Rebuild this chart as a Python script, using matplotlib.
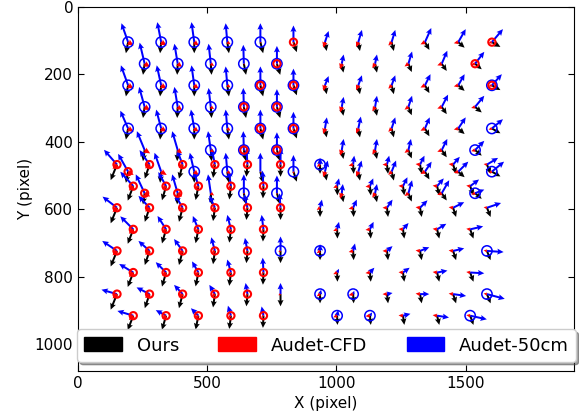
import numpy as np
import matplotlib
matplotlib.use("Agg")
import matplotlib.pyplot as plt
from matplotlib.patches import Patch

plt.rcParams['font.family'] = ['DejaVu Sans']
plt.rcParams['xtick.direction'] = 'in'
plt.rcParams['ytick.direction'] = 'in'
plt.rcParams['xtick.top'] = True
plt.rcParams['ytick.right'] = True

# ---- grid positions (image pixels) ----
# upper-left block
ul_rows_y = [105, 169, 233, 297, 361, 425, 489, 553]
ul_x_odd = [194, 322, 450, 578, 706, 834]
ul_x_even = [258, 386, 514, 642, 770]
# lower-left block
ll_rows_y = [468, 532, 596, 660, 724, 788, 852, 916]
ll_x_odd = [151, 277, 405, 530, 656, 784]
ll_x_even = [214, 341, 466, 592, 718]
# upper-right block
ur_rows_y = [105, 169, 233, 297, 361, 425, 489, 553]
ur_x_odd = [956, 1085, 1214, 1343, 1472, 1602]
ur_x_even = [1021, 1150, 1279, 1408, 1537]
# lower-right block
lr_rows_y = [468, 532, 596, 660, 724, 788, 852, 916]
lr_x_odd = [937, 1065, 1196, 1324, 1452, 1583]
lr_x_even = [1003, 1130, 1258, 1390, 1518]

# ---- vectors (screen px, u right / v up) ----
ul_blue = [
    [(-6, 17), (-3.5, 18), (-2.5, 18), (-1.5, 17), (0, 17), (0, 15)],
    [(-4.5, 19), (-3, 18), (-2, 18), (-0.5, 17), (0, 16)],
    [(-6.5, 18), (-4, 18), (-2.5, 18), (-1.5, 17), (0, 17), (0, 15)],
    [(-5, 18), (-3, 18), (-2, 17), (-0.5, 17), (0, 16)],
    [(-7, 16), (-4.5, 17), (-3, 17), (-1.5, 17), (0, 17), (0, 15)],
    [(-7, 17), (-5, 17), (-2.5, 17), (-0.5, 17), (0, 16)],
    [(-9, 16), (-6, 17), (-4, 17), (-1.5, 17), (0, 17), (0, 15)],
    [(-8, 17), (-5, 17), (-2.5, 17), (0, 17), (0, 16)],
]
ul_black_odd = [(-2, -10), (-1, -10), (0, -10), (1.5, -10), (2.5, -10), (3, -9)]
ul_black_even = [(-1.5, -10), (-0.5, -10), (0.7, -10), (2, -10), (3, -10)]
ul_red_odd = [(5, -3), (5, -3), (4, -3), (3, -2), (1, -1), (0, -2)]
ul_red_even = [(5, -3), (4, -3), (3, -2), (1, -1), (0, -1.5)]
ul_rings = ["bbbbbr", "bbbbx", "bbbbxx", "bbbxx", "bbbbxx", "..bxx", "r.bb.b", "rr.bb"]

ll_blue = [
    [(-11.7, 13.3), (-9, 13), (-5, 13), (-3, 15), (-1, 15), (0, 15)],
    [(-11.7, 13), (-7, 12.7), (-4, 14), (-2, 14), (-1, 14)],
    [(-13, 10), (-10, 10.7), (-7, 12), (-5, 11), (-3, 12), (-1, 13)],
    [(-11.7, 11.7), (-7.7, 12), (-5, 12), (-3.3, 13), (-1.7, 13)],
    [(-13.3, 9), (-10, 9), (-7.7, 10.7), (-3.3, 12.3), (-2.3, 11.7), (0, 13)],
    [(-12.7, 7.7), (-9.3, 9.3), (-5.7, 10), (-3.3, 11.7), (-0.7, 13.3)],
    [(-14, 4), (-11.7, 6), (-7.7, 8.3), (-5, 8.3), (-1.7, 10), (0, 10)],
    [(-14.3, 4.3), (-9.3, 5), (-6.7, 6.7), (-2.7, 9), (-1.7, 8.3)],
]
ll_black_odd = [(-5.7, -14), (-4.3, -12.7), (-3.3, -12.7), (-1.7, -12), (-1, -11), (0, -11)]
ll_black_even = [(-5, -13), (-3.7, -12.7), (-2.5, -12.5), (-1.5, -12), (-0.5, -11)]
ll_red_odd = [(-4, -4), (-4, -3.5), (-3.5, -3), (-3, -2), (-2, -1.5), (-2, -1)]
ll_red_even = [(-4, -4), (-3.5, -3), (-3, -2.5), (-2.5, -2), (-2, -1)]
ll_rings = ["rrrrrr", "rrrrr", "rrrrrr", "rrrrr", "rrrrrb", "rrrrr", "rrrrr.", "rrrrr"]

ur_blue = [
    [(3.3, 10), (3.3, 11), (3.3, 11), (5.7, 12.7), (6.7, 11.7), (10, 11.7)],
    [(1.7, 8.3), (1.7, 8.3), (3.3, 11), (5, 11.7), (8.3, 10.7)],
    [(3.3, 8.3), (3.3, 9), (3.3, 9), (5, 10), (5.7, 10), (9, 10)],
    [(1.7, 9), (1.7, 10), (3.3, 10), (5.7, 11), (8.3, 10)],
    [(1.7, 10), (2.3, 10.7), (3.3, 10), (4.3, 10), (6.7, 10), (10, 8.3)],
    [(1.7, 10), (1.7, 10), (2.3, 10), (5, 10), (8.3, 8.3)],
    [(2.5, 10), (3, 10), (4, 10), (6, 9), (9, 9), (11, 9)],
    [(1, 8.3), (1.7, 8.3), (3.3, 11.7), (6.7, 11.7), (8.3, 3.3)],
]
ur_black_odd = [(1.5, -8), (1.5, -8), (2, -8), (4, -7), (5.7, -5), (7.7, -4.3)]
ur_black_even = [(1.5, -8), (1.7, -8), (3, -7.5), (4.5, -6.5), (6, -5)]
ur_red_odd = [(-1.5, -5), (-2, -4.5), (-3, -3), (-4, -2), (-4, -1), (-3, -1)]
ur_red_even = [(-1.5, -5), (-2.5, -4), (-3.5, -2.5), (-4, -1.5), (-3.5, -1)]
ur_rings = [".....r", "....r", ".....x", ".....", ".....b", "....b", ".....b", "....b"]

lr_blue = [
    [(0, 6), (1, 8), (2, 8), (4, 8), (6, 7), (10, 6)],
    [(1.7, 7), (3, 7), (4, 8), (6, 7), (8, 6)],
    [(1.7, 7.3), (3.3, 7.3), (5, 7.3), (6.7, 6.7), (10, 5), (12.7, 4.3)],
    [(1.7, 6.7), (3.3, 6.7), (5, 5.7), (8.3, 5), (11.7, 2.7)],
    [(0, 6), (1.7, 6.7), (5, 4.3), (8.3, 3.3), (10, 2.3), (15, -1)],
    [(1.7, 3.3), (4, 4.3), (6, 4.3), (9.3, 1.7), (12.7, -0.7)],
    [(1, 4), (1, 3), (5, 1), (8.3, 0), (11.7, -1.7), (16, -4.3)],
    [(1, 5), (2, 3), (6.7, 1.7), (10.7, -1.7), (15, -3.3)],
]
lr_black_odd = [(0, -8.3), (0.5, -8.3), (1, -8.3), (1.5, -8.3), (2.7, -8.3), (3.3, -8.3)]
lr_black_even = [(0.3, -8.3), (0.8, -8.3), (1.2, -8.3), (2, -8.3), (3, -8.3)]
lr_red_odd = [(-3, -2), (-4, -1), (-4, 0), (-4, 0.5), (-4, 0.5), (-3, 0.5)]
lr_red_even = [(-3.5, -1.5), (-4, -0.5), (-4, 0.3), (-4, 0.5), (-3.5, 0.5)]
lr_rings = ["b.....", ".....", "......", ".....", "b....b", ".....", "bb...b", "bb..b"]


def build(rows_y, x_odd, x_even, blue, bk_odd, bk_even, rd_odd, rd_even, rings):
    out = []
    for i, y in enumerate(rows_y):
        xs = x_odd if i % 2 == 0 else x_even
        bk = bk_odd if i % 2 == 0 else bk_even
        rd = rd_odd if i % 2 == 0 else rd_even
        for j, x in enumerate(xs):
            out.append((x, y, blue[i][j][0], blue[i][j][1], bk[j][0], bk[j][1],
                        rd[j][0], rd[j][1], rings[i][j]))
    return out


pts = []
pts += build(ul_rows_y, ul_x_odd, ul_x_even, ul_blue, ul_black_odd, ul_black_even,
             ul_red_odd, ul_red_even, ul_rings)
pts += build(ll_rows_y, ll_x_odd, ll_x_even, ll_blue, ll_black_odd, ll_black_even,
             ll_red_odd, ll_red_even, ll_rings)
pts += build(ur_rows_y, ur_x_odd, ur_x_even, ur_blue, ur_black_odd, ur_black_even,
             ur_red_odd, ur_red_even, ur_rings)
pts += build(lr_rows_y, lr_x_odd, lr_x_even, lr_blue, lr_black_odd, lr_black_even,
             lr_red_odd, lr_red_even, lr_rings)

X = np.array([p[0] for p in pts], float)
Y = np.array([p[1] for p in pts], float)
BU = np.array([p[2] for p in pts]); BV = np.array([p[3] for p in pts])
KU = np.array([p[4] for p in pts]); KV = np.array([p[5] for p in pts])
RU = np.array([p[6] for p in pts]); RV = np.array([p[7] for p in pts])
ring = np.array([p[8] for p in pts])

fig = plt.figure(figsize=(5.79, 4.17), dpi=100)
ax = fig.add_axes([0.1347, 0.1103, 0.8567, 0.8736])

qkw = dict(angles='uv', scale_units='dots', scale=0.9, units='dots',
           width=2.0, headwidth=3.0, headlength=3.2, headaxislength=2.8, minlength=0.3)
ax.quiver(X, Y, KU, KV, color='black', zorder=2, **qkw)
ax.quiver(X, Y, BU, BV, color='blue', zorder=3, **qkw)
ax.quiver(X, Y, RU, RV, color='red', zorder=4, **qkw)

bmask = np.isin(ring, ['b', 'x'])
rmask = np.isin(ring, ['r', 'x'])
ax.scatter(X[bmask], Y[bmask], s=55, facecolors='none', edgecolors='blue', linewidths=1.1, zorder=5)
ax.scatter(X[rmask], Y[rmask], s=27, facecolors='none', edgecolors='red', linewidths=1.5, zorder=5)

ax.set_xlim(0, 1920)
ax.set_ylim(1080, 0)
ax.set_xticks([0, 500, 1000, 1500])
ax.set_yticks([0, 200, 400, 600, 800, 1000])
ax.tick_params(labelsize=11, length=4)
ax.set_xlabel('X (pixel)', fontsize=11)
ax.set_ylabel('Y (pixel)', fontsize=11, labelpad=1)

handles = [Patch(color='black'), Patch(color='red'), Patch(color='blue')]
ax.legend(handles, ['Ours', 'Audet-CFD', 'Audet-50cm'], ncol=3, mode='expand',
          loc='lower left', bbox_to_anchor=(-0.002, 0.025, 1.006, 0.088),
          borderaxespad=0, fontsize=13, fancybox=True, shadow=True,
          handlelength=2.1, handleheight=0.8, framealpha=1)

fig.savefig('out.png', dpi=100)
